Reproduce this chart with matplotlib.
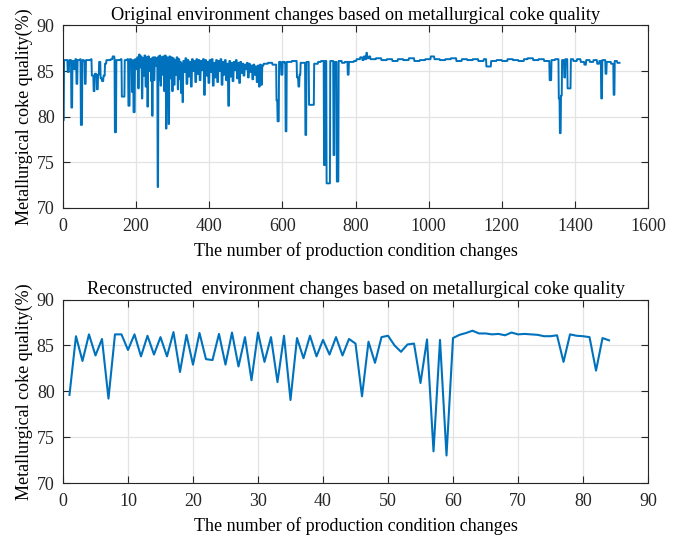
import numpy as np
import matplotlib.pyplot as plt

# original series: piecewise-constant quality levels, (start index, level)
orig_breaks = [
    (0, 79.6), (2, 86.2), (12, 84.9), (16, 86.2), (22, 81.0), (25, 86.1), (30, 85.2), (33, 86.3), (36, 83.6), (39, 86.2),
    (46, 86.3), (48, 79.1), (52, 86.2), (57, 86.1), (59, 83.6), (62, 86.2), (76, 86.3), (78, 84.5), (83, 82.8), (86, 84.7),
    (90, 84.6), (92, 83.0), (95, 84.6), (98, 86.0), (102, 84.2), (106, 83.9), (110, 84.5), (114, 85.8), (118, 86.2), (130, 86.3),
    (135, 86.6), (140, 86.4), (141, 78.3), (145, 86.2), (157, 86.3), (160, 82.2), (168, 86.2), (175, 86.3), (178, 81.2), (182, 86.3),
    (186, 86.1), (188, 82.7), (190, 86.2), (192, 80.5), (196, 86.3), (200, 85.2), (202, 86.5), (205, 83.1), (207, 86.8), (210, 85.4),
    (212, 86.6), (215, 82.0), (217, 86.4), (220, 84.5), (222, 86.7), (225, 83.3), (227, 86.5), (230, 81.1), (232, 86.6), (235, 85.0),
    (237, 86.3), (240, 83.9), (242, 86.4), (243, 80.1), (245, 86.5), (248, 84.0), (250, 86.5), (253, 85.6), (256, 86.4), (258, 72.3),
    (260, 86.6), (262, 84.0), (264, 86.7), (266, 83.4), (268, 86.5), (271, 84.6), (273, 86.6), (276, 82.8), (278, 86.7), (281, 78.7),
    (283, 86.5), (286, 84.8), (288, 79.2), (290, 86.6), (293, 84.2), (295, 86.5), (298, 82.8), (300, 86.4), (303, 83.5), (305, 86.2),
    (308, 84.6), (310, 86.5), (313, 83.0), (315, 86.3), (318, 84.1), (320, 86.0), (322, 82.6), (324, 85.8), (326, 81.6), (328, 86.1),
    (331, 84.9), (334, 86.4), (337, 83.6), (340, 86.2), (343, 84.4), (346, 86.0), (349, 83.3), (352, 86.3), (355, 85.0), (358, 86.1),
    (361, 83.8), (364, 86.3), (367, 84.7), (370, 86.2), (373, 84.0), (376, 86.1), (379, 85.1), (382, 86.3), (385, 82.4), (388, 86.2),
    (391, 84.5), (394, 86.0), (397, 83.7), (400, 86.2), (403, 84.9), (406, 86.3), (409, 83.4), (412, 85.9), (415, 84.3), (418, 86.2),
    (421, 83.8), (424, 86.1), (427, 85.0), (430, 86.3), (433, 83.5), (436, 86.0), (439, 84.6), (442, 86.2), (445, 84.0), (448, 85.8),
    (451, 81.2), (454, 86.1), (457, 84.4), (460, 85.9), (463, 83.9), (466, 86.0), (469, 85.1), (472, 86.2), (475, 84.2), (478, 85.9),
    (481, 83.7), (484, 86.0), (487, 84.8), (490, 85.8), (493, 84.5), (496, 85.7), (499, 85.2), (502, 85.9), (505, 84.3), (508, 85.8),
    (511, 84.9), (514, 85.6), (517, 84.1), (520, 85.7), (523, 84.6), (526, 85.5), (529, 83.8), (532, 85.6), (535, 83.3), (538, 85.7),
    (541, 83.5), (544, 85.6), (548, 85.8), (560, 85.9), (572, 85.7), (583, 81.8), (586, 79.5), (590, 86.0), (596, 84.6), (600, 86.0),
    (606, 85.9), (608, 78.4), (611, 86.0), (625, 86.1), (639, 84.3), (643, 83.3), (646, 84.6), (649, 85.9), (662, 78.0), (665, 86.0),
    (672, 81.3), (686, 85.8), (697, 86.0), (705, 86.1), (713, 74.7), (716, 86.1), (720, 72.7), (730, 86.1), (739, 75.8), (742, 86.0),
    (748, 72.9), (753, 86.1), (762, 85.9), (770, 86.0), (778, 84.6), (781, 86.0), (795, 86.1), (802, 86.3), (812, 86.5), (818, 86.2),
    (822, 86.6), (826, 86.3), (829, 87.0), (831, 86.4), (836, 86.6), (840, 86.3), (855, 86.4), (870, 86.2), (885, 86.3), (900, 86.1),
    (915, 86.3), (930, 86.2), (945, 86.4), (960, 86.1), (975, 86.2), (990, 86.3), (1005, 86.6), (1015, 86.3), (1030, 86.2), (1045, 86.3),
    (1060, 86.4), (1075, 86.1), (1090, 86.3), (1105, 86.2), (1120, 86.3), (1135, 86.1), (1150, 86.3), (1157, 85.5), (1170, 86.1), (1185, 86.2),
    (1200, 86.1), (1215, 86.3), (1230, 86.2), (1245, 86.1), (1260, 86.3), (1270, 86.4), (1285, 86.2), (1300, 86.3), (1315, 86.1), (1330, 84.0),
    (1335, 86.2), (1345, 86.3), (1355, 82.0), (1358, 78.2), (1361, 82.3), (1364, 86.2), (1370, 84.3), (1373, 86.3), (1379, 83.1), (1388, 86.3),
    (1395, 86.1), (1405, 86.3), (1415, 86.0), (1425, 85.7), (1430, 86.2), (1440, 86.0), (1450, 86.2), (1460, 85.8), (1466, 86.1), (1471, 82.0),
    (1474, 86.2), (1483, 84.7), (1486, 86.0), (1498, 85.8), (1505, 82.4), (1508, 86.1), (1515, 85.9),
]
orig_end = 1522

# reconstructed series, one value per condition change
recon = [79.6, 86.0, 83.3, 86.2, 83.9, 85.7, 79.2, 86.2, 86.2, 84.5,
         86.2, 83.8, 86.05, 84.0, 85.9, 83.8, 86.45, 82.1, 86.15, 82.9,
         86.35, 83.5, 83.4, 86.25, 82.9, 86.4, 82.7, 85.9, 81.2, 86.4,
         83.2, 85.9, 81.0, 86.05, 79.05, 85.8, 83.6, 86.05, 83.8, 85.6,
         84.0, 85.9, 83.9, 85.7, 85.2, 79.45, 85.4, 83.1, 85.9, 86.05,
         85.0, 84.3, 85.1, 85.2, 80.9, 85.65, 73.45, 85.6, 73.0, 85.8,
         86.15, 86.35, 86.6, 86.3, 86.3, 86.2, 86.25, 86.1, 86.4, 86.2,
         86.25, 86.2, 86.15, 86.0, 86.0, 86.1, 83.2, 86.2, 86.05, 86.0,
         85.9, 82.25, 85.8, 85.55]

starts = [b[0] for b in orig_breaks]
levels = [b[1] for b in orig_breaks]
counts = np.diff(starts + [orig_end])
orig = np.repeat(levels, counts)
x_orig = np.arange(1, len(orig) + 1)
x_recon = np.arange(1, len(recon) + 1)

plt.rcParams['font.family'] = ['Liberation Serif', 'DejaVu Serif']
plt.rcParams['font.size'] = 13

blue = '#0072BD'
fig = plt.figure(figsize=(6.83, 5.38), dpi=100)
ax1 = fig.add_axes([0.0922, 0.6134, 0.8566, 0.3394])
ax2 = fig.add_axes([0.0922, 0.1022, 0.8566, 0.3411])

ax1.plot(x_orig, orig, color=blue, lw=1.4)
ax1.set_xlim(0, 1600)
ax1.set_xticks(np.arange(0, 1601, 200))
ax1.set_title('Original environment changes based on metallurgical coke quality', fontsize=13.2, pad=4)

ax2.plot(x_recon, recon, color=blue, lw=1.5)
ax2.set_xlim(0, 90)
ax2.set_xticks(np.arange(0, 91, 10))
ax2.set_title('Reconstructed  environment changes based on metallurgical coke quality', fontsize=13.2, pad=4)

for ax in (ax1, ax2):
    ax.set_ylim(70, 90)
    ax.set_yticks([70, 75, 80, 85, 90])
    ax.set_xlabel('The number of production condition changes', labelpad=5)
    ax.set_ylabel('Metallurgical coke quality(%)', labelpad=3)
    ax.grid(True, color='#e3e3e3', lw=0.9)
    ax.set_axisbelow(True)
    ax.tick_params(direction='in', top=True, right=True, length=5, width=0.8,
                   colors='#262626', labelcolor='#262626', labelsize=13)
    ax.tick_params(axis='x', pad=7)
    ax.tick_params(axis='y', pad=6)
    for s in ax.spines.values():
        s.set_color('#262626')
        s.set_linewidth(0.8)

fig.savefig('out.png', dpi=100)
